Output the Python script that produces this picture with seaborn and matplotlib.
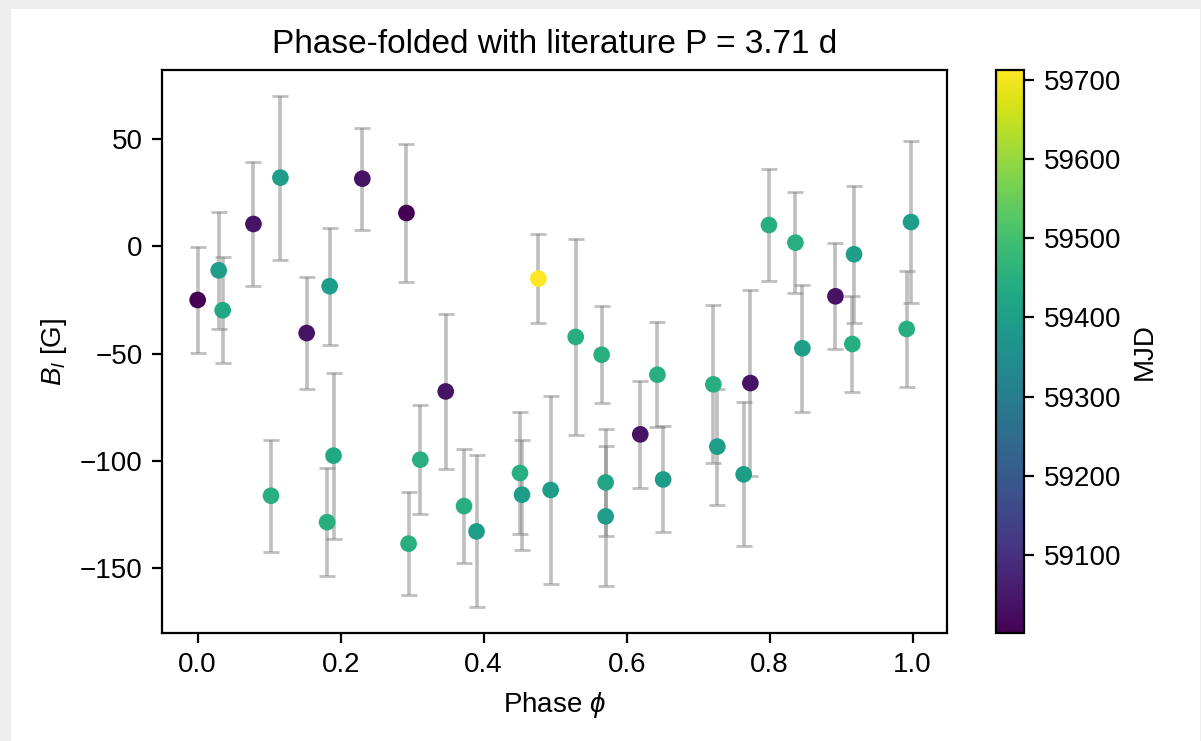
import matplotlib
matplotlib.use("Agg")
import matplotlib.pyplot as plt
import numpy as np
import pandas as pd
import seaborn as sns
from matplotlib.patches import Rectangle
from matplotlib.colors import Normalize
from matplotlib.cm import ScalarMappable

phase = [0.000, 0.0294, 0.0350, 0.0780, 0.1157, 0.1524, 0.1846, 0.2303, 0.2920,
         0.1026, 0.1810, 0.1900, 0.2950, 0.3114, 0.3469, 0.3725, 0.3900, 0.4508,
         0.4536, 0.4765, 0.4937, 0.5287, 0.5650, 0.5706, 0.5706, 0.6190, 0.6430,
         0.6510, 0.7212, 0.7268, 0.7636, 0.7730, 0.7990, 0.8360, 0.8457, 0.8920,
         0.9156, 0.9180, 0.9916, 0.9977]
b_long = [-25.0, -11.2, -29.8, 10.4, 32.0, -40.4, -18.6, 31.5, 15.5,
          -116.2, -128.5, -97.5, -138.5, -99.4, -67.6, -121.0, -132.8, -105.6,
          -115.7, -15.1, -113.5, -42.2, -50.5, -110.0, -125.8, -87.6, -59.8,
          -108.6, -64.3, -93.3, -106.2, -63.7, 9.9, 1.7, -47.5, -23.3,
          -45.5, -3.7, -38.5, 11.3]
b_err = [24.5, 27.3, 24.6, 28.9, 38.2, 26.0, 27.2, 23.8, 32.3,
         26.1, 25.2, 38.7, 24.0, 25.3, 35.9, 26.4, 35.4, 28.4,
         25.6, 20.6, 43.7, 45.5, 22.5, 25.0, 32.6, 25.0, 24.4,
         24.7, 36.8, 27.0, 33.5, 43.2, 26.0, 23.6, 29.7, 24.7,
         22.4, 32.0, 26.9, 37.6]
mjd = [59001, 59395, 59428, 59035, 59395, 59035, 59395, 59035, 59002,
       59450, 59450, 59428, 59450, 59450, 59035, 59450, 59395, 59450,
       59395, 59713, 59395, 59450, 59450, 59420, 59395, 59035, 59450,
       59395, 59450, 59395, 59395, 59035, 59450, 59450, 59395, 59035,
       59450, 59395, 59450, 59395]

plt.rcParams['font.family'] = ['Liberation Sans', 'DejaVu Sans']
plt.rcParams['mathtext.fontset'] = 'custom'
plt.rcParams['mathtext.rm'] = 'Liberation Sans'
plt.rcParams['mathtext.it'] = 'Liberation Sans:italic'
plt.rcParams['mathtext.bf'] = 'Liberation Sans:bold'

df = pd.DataFrame({"phase": phase, "B": b_long, "err": b_err, "MJD": mjd})

DPI = 200
W, H = 1201, 741
fig = plt.figure(figsize=(W / DPI, H / DPI), dpi=DPI)
fig.patch.set_facecolor('#eeeeee')
fig.patches.append(Rectangle((11 / W, 0), (1200 - 11) / W, (H - 9) / H,
                             transform=fig.transFigure, facecolor='white',
                             edgecolor='none', zorder=-10))

ax = fig.add_axes([162 / W, 108 / H, (946.7 - 162) / W, (633 - 70) / H])
cax = fig.add_axes([996 / W, 108 / H, 28 / W, (633 - 70) / H])

vmin, vmax = min(mjd), max(mjd)
ax.errorbar(df["phase"], df["B"], yerr=df["err"], fmt='none', ecolor='gray',
            alpha=0.5, capsize=3, elinewidth=1.3, capthick=1.0, zorder=2)
sns.scatterplot(data=df, x="phase", y="B", hue="MJD", palette="viridis",
                hue_norm=(vmin, vmax), s=36, linewidth=0, legend=False,
                ax=ax, zorder=3)

sm = ScalarMappable(norm=Normalize(vmin, vmax), cmap='viridis')
cb = fig.colorbar(sm, cax=cax)
cb.set_label("MJD", fontsize=10)
cb.ax.tick_params(labelsize=10)

ax.set_xlabel(r"Phase $\phi$", fontsize=10)
ax.set_ylabel(r"$B_l$ [G]", fontsize=10)
ax.set_title("Phase-folded with literature P = 3.71 d", fontsize=12)
ax.tick_params(labelsize=10)

fig.savefig("out.png", dpi=DPI, facecolor=fig.get_facecolor())
